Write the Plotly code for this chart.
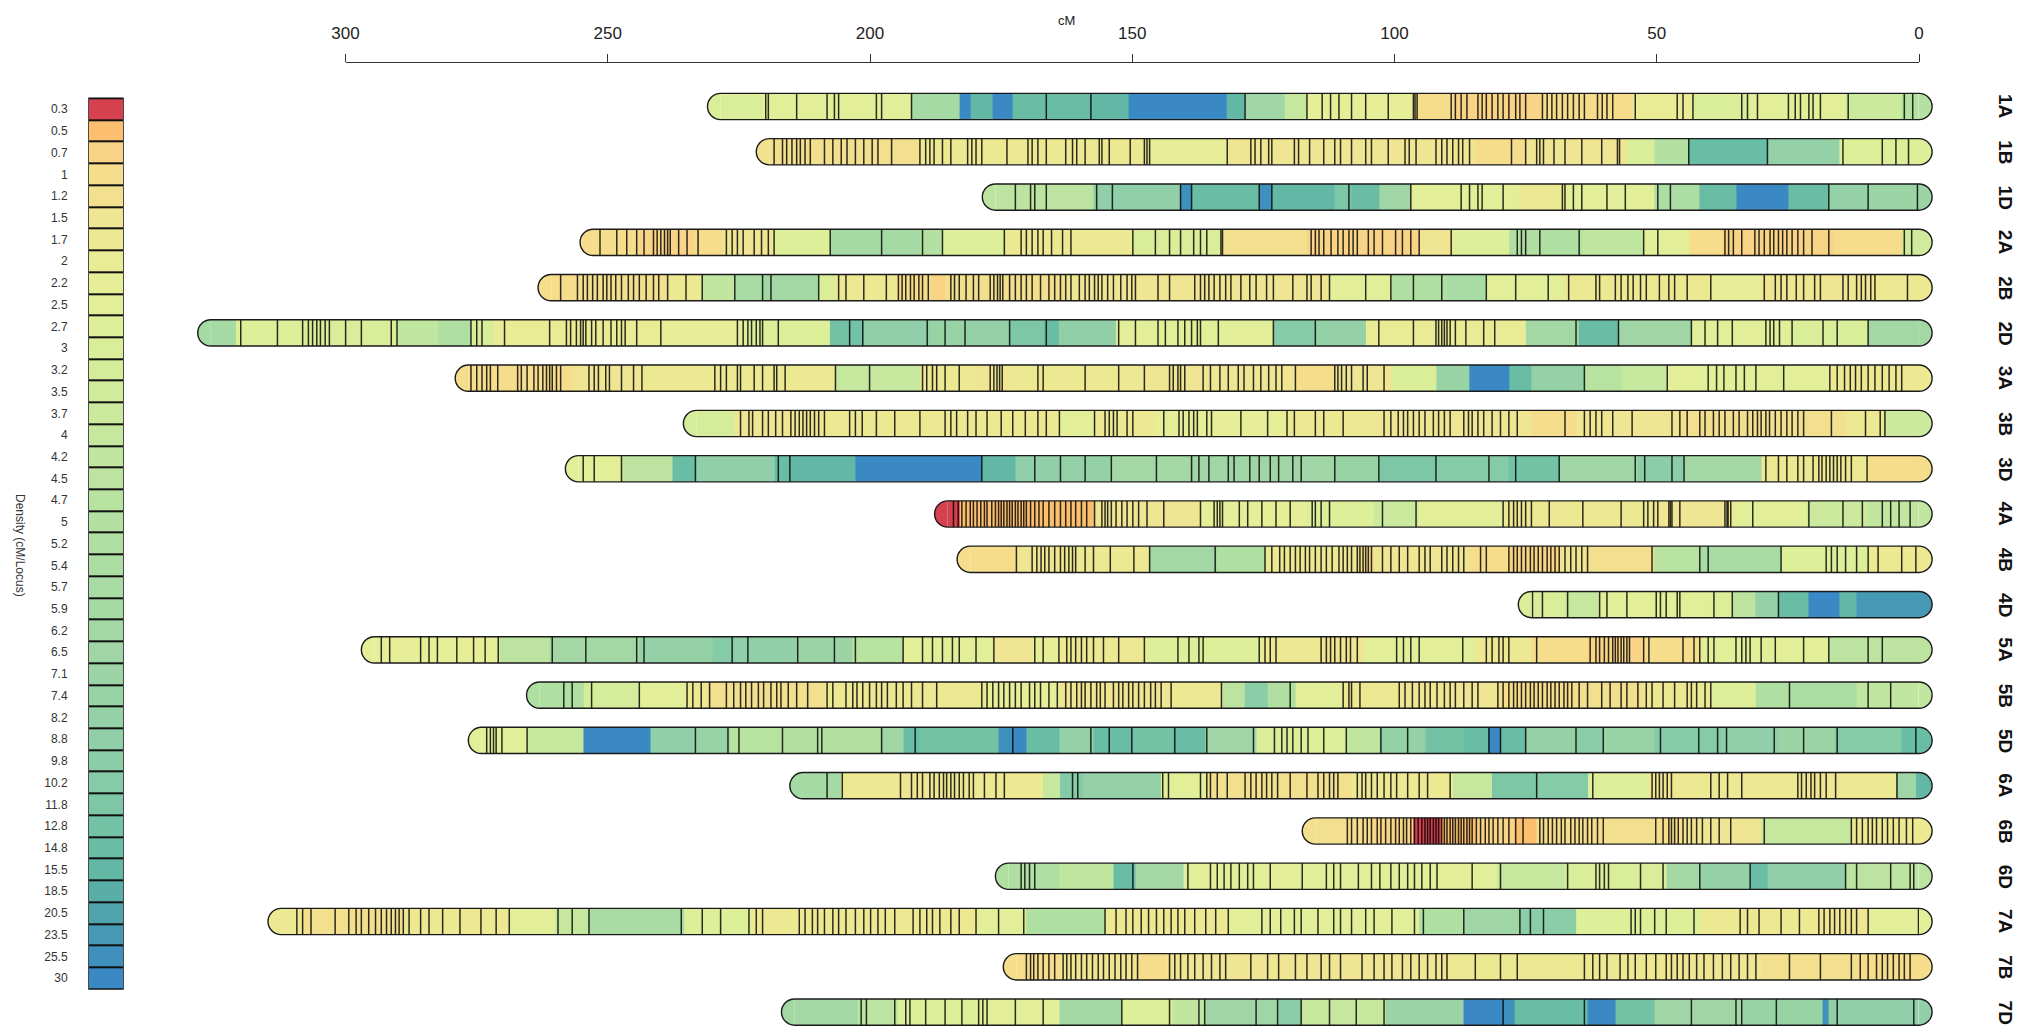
import plotly.graph_objects as go

# legend classes (cM/Locus), top to bottom
LEGEND_VALUES = [0.3, 0.5, 0.7, 1, 1.2, 1.5, 1.7, 2, 2.2, 2.5, 2.7, 3, 3.2, 3.5, 3.7,
                 4, 4.2, 4.5, 4.7, 5, 5.2, 5.4, 5.7, 5.9, 6.2, 6.5, 7.1, 7.4, 8.2,
                 8.8, 9.8, 10.2, 11.8, 12.8, 14.8, 15.5, 18.5, 20.5, 23.5, 25.5, 30]
LEGEND_COLORS = ['#D6414F', '#FBBF6F', '#F9D486', '#F6DD8C', '#F2E08F', '#F0E592', '#EDE993',
                 '#EAEC95', '#E6EE97', '#E2EF98', '#DEEF99', '#DAEE9A', '#D5ED9B', '#D0EB9C',
                 '#CBEA9D', '#C6E89E', '#C1E69F', '#BCE4A0', '#B8E2A0', '#B4E0A1', '#B0DFA2',
                 '#ACDDA3', '#A9DBA4', '#A6DAA4', '#A3D8A5', '#A0D6A5', '#9CD4A6', '#98D3A6',
                 '#94D1A6', '#90CFA7', '#8BCDA7', '#86CBA7', '#7DC6A6', '#74C2A6', '#6ABDA5',
                 '#62B7A5', '#59AEA8', '#4FA4AE', '#4699B5', '#3F90BC', '#3A88C4']

CHROMS = ['1A', '1B', '1D', '2A', '2B', '2D', '3A', '3B', '3D', '4A', '4B', '4D',
          '5A', '5B', '5D', '6A', '6B', '6D', '7A', '7B', '7D']
LENGTHS = [228.5, 219.2, 176.1, 252.8, 260.8, 325.7, 276.6, 233.1, 255.6, 185.2, 180.9,
           73.9, 294.5, 263.0, 274.1, 212.8, 115.1, 173.6, 312.3, 172.1, 214.4]
AXIS_TICKS = [0, 50, 100, 150, 200, 250, 300]

# density segments: (start cM, density)
SEG_1A = [(0, 5), (3.3, 3.7), (14, 2.5), (32.2, 3), (42.9, 2), (54.7, 1), (71.8, 0.7), (88.9, 1),
          (96.4, 2.2), (116.7, 4), (121, 6.5), (128.5, 15.5), (132, 30), (150.7, 15.5),
          (157.9, 14.8), (172.8, 30), (176.6, 15.5), (180.9, 30), (183, 5.9), (192.1, 2.5),
          (220.5, 3)]
SEG_1B = [(0, 2.7), (15.1, 8.2), (28.9, 14.8), (43.9, 5), (50.4, 3), (55.7, 1.5), (75, 1),
          (84.6, 1.5), (131.7, 2.2), (146.7, 1.7), (190.5, 1.2)]
SEG_1D = [(0, 7.1), (9.7, 8.2), (17.2, 14.8), (24.9, 30), (34.9, 14.8), (41.8, 5.4), (50.4, 2.5),
          (67.5, 1.7), (76.1, 2.5), (96.9, 6.5), (102.8, 14.8), (108.2, 11.8), (111.4, 15.5),
          (123.4, 25.5), (125.8, 14.8), (138.7, 25.5), (140.8, 8.8), (157.4, 4.5)]
SEG_2A = [(0, 3.5), (3.3, 1), (16.2, 0.7), (37.5, 1), (43.9, 2.5), (52.5, 4.2), (64.3, 5.2),
          (78.2, 2.7), (88.9, 1.5), (95.3, 0.7), (116.7, 1.2), (132.8, 3), (149.9, 1.7),
          (174.4, 2.7), (186.2, 5), (190.5, 5.9), (207.6, 2.7), (218.3, 1.5), (228, 1),
          (233.3, 0.7), (244, 1)]
SEG_2B = [(0, 1.7), (8.7, 1.5), (30.1, 2.2), (39.7, 1.7), (67.5, 2.5), (82.5, 5.7), (90, 5.2),
          (100.7, 2.5), (112.4, 1.5), (163, 1.2), (185.7, 0.7), (188.4, 1), (194.8, 1.7),
          (206.6, 3), (209.8, 6.2), (220.5, 5.7), (225.8, 4.2), (232.2, 1.7), (238.6, 1.2),
          (254.7, 1)]
SEG_2D = [(0, 6.2), (9.7, 3), (24.7, 2.5), (43.4, 6.5), (57.3, 14.8), (64.8, 6.2), (75, 2),
          (105.5, 8.2), (115.1, 10.2), (123.1, 2.5), (153.1, 8.8), (164, 14.8), (166.9, 11.8),
          (173.4, 8.2), (181.9, 7.4), (188.4, 8.8), (201.2, 12.8), (207.6, 2.7), (224.7, 2.2),
          (239.7, 2), (271.8, 3), (276.1, 5.2), (282.5, 4.2), (290, 3), (308.2, 2.7), (321, 5.9)]
SEG_3A = [(0, 1.7), (17.2, 2.5), (48.2, 4), (56.8, 4.7), (63.8, 8.2), (73.9, 14.8), (78.2, 30),
          (85.7, 7.4), (92.1, 3), (100.7, 1.5), (111.4, 1), (118.9, 1.5), (147.7, 1.7),
          (173.4, 1.5), (179.8, 1.7), (190.5, 4), (206.6, 1.7), (244, 1.5), (256.8, 1)]
SEG_3B = [(0, 3.7), (6.5, 1.7), (14, 1.2), (46.1, 1.5), (65.4, 1), (73.9, 1.5), (103.9, 1.7),
          (121, 2.2), (145.6, 1.7), (157.4, 2.5), (163.8, 1.7), (208.7, 1.5), (225.8, 3.2)]
SEG_3D = [(0, 1), (9.7, 1.7), (30.1, 6.2), (45, 9.8), (53.6, 6.5), (68.6, 12.8), (78.2, 10.2),
          (92.1, 11.8), (102.8, 7.4), (111.4, 6.5), (139.2, 6.2), (154.2, 8.2), (163.8, 8.8),
          (172.3, 15.5), (178.7, 30), (202.8, 15.5), (215.1, 14.8), (218.3, 8.8), (233.3, 14.8),
          (237.6, 4.5), (247.2, 2.5)]
SEG_4A = [(0, 4.2), (9.7, 3.7), (21.5, 2.5), (35.4, 1.5), (50.4, 1.7), (79.3, 2.5), (95.3, 3.7),
          (103.9, 2.7), (116.7, 2.2), (137, 1.5), (157.4, 0.5), (183, 0.3)]
SEG_4B = [(0, 1.7), (9.7, 2.7), (26.3, 5.7), (41.8, 4.7), (50.4, 1.2), (63.2, 1.5), (68.6, 0.7),
          (78.2, 1), (85.7, 1.5), (103.9, 1), (107.1, 1.7), (124.7, 5.2), (133.8, 6.2),
          (146.7, 1.7), (163.8, 1.5), (172.3, 1)]
SEG_4D = [(0, 23.5), (11.9, 15.5), (15.1, 30), (21, 14.8), (26.8, 8.2), (31.1, 4.5), (35.4, 2.7),
          (39.7, 2.5), (61.1, 4), (67.5, 3)]
SEG_5A = [(0, 4.5), (17.2, 2.5), (41.8, 1), (52.5, 0.7), (63.2, 1), (73.9, 1.7), (84.6, 2.5),
          (106, 1.5), (114.6, 1.7), (125.3, 2.7), (147.7, 1.7), (163.8, 2.2), (169.1, 1.5),
          (176.6, 2.5), (193.7, 4.7), (203.3, 7.1), (214, 8.8), (225.8, 10.2), (230.1, 8.2),
          (244, 6.2), (261.1, 4.5), (270.7, 2.2)]
SEG_5B = [(0, 4.2), (11.9, 5.4), (24.7, 5.2), (31.1, 2.7), (39.7, 1.7), (52.5, 1.2), (65.4, 1),
          (80.3, 1.5), (99.6, 1.7), (110.3, 2.5), (118.9, 5.2), (124.2, 9.8), (128.5, 4.5),
          (132.8, 1.7), (142.4, 1.5), (163.8, 2.2), (177.7, 1.7), (208.7, 1.2), (231.2, 1.7),
          (235.4, 2.5), (244, 3.2), (254.7, 5.2)]
SEG_5D = [(0, 14.8), (3.3, 10.2), (16.1, 7.1), (26.8, 8.8), (37.6, 10.2), (50.4, 7.4), (60, 9.8),
          (65.4, 8.2), (75, 14.8), (79.8, 30), (82, 14.8), (86.8, 12.8), (94.2, 8.2), (102.8, 4.2),
          (109.2, 2.7), (118.9, 3), (126.3, 6.5), (136, 14.8), (142.4, 12.8), (149.9, 14.8),
          (157.4, 8.2), (163.8, 14.8), (170.2, 30), (172.8, 25.5), (175.5, 12.8), (190.5, 14.8),
          (193.7, 6.5), (198, 5), (217.3, 4.7), (226.9, 7.4), (233.3, 8.8), (241.9, 30),
          (254.7, 4), (265.4, 2.5)]
SEG_6A = [(0, 15.5), (0.6, 6.5), (4.4, 1.7), (15.1, 1.5), (21.5, 1.7), (46.1, 1.5), (51.5, 2.7),
          (63.2, 10.2), (72.9, 11.8), (81.4, 4), (88.9, 1.7), (108.2, 1.2), (136, 2.5),
          (144.5, 8.2), (159.5, 10.2), (163.8, 4), (167, 1.7), (187.3, 1.5), (194.8, 1.7),
          (205.5, 5.9)]
SEG_6B = [(0, 1.7), (12.9, 4), (30.1, 1.5), (45, 1), (50.4, 1.2), (60, 1), (72.9, 0.5),
          (77.1, 0.7), (84.6, 0.5), (91, 0.3), (96.4, 0.7), (103.9, 1), (109.2, 1.2)]
SEG_6D = [(0, 4.5), (14, 8.8), (28.9, 14.8), (32.2, 8.2), (41.8, 6.2), (48.2, 3), (67.5, 4),
          (80.3, 2.5), (140.3, 6.2), (149.4, 14.8), (153.6, 4.2), (163.8, 5.2)]
SEG_7A = [(0, 2.5), (9.7, 1.5), (19.4, 1.7), (41.8, 2.7), (65.4, 9.8), (76.1, 6.5), (86.8, 5.2),
          (95.3, 2.5), (131.7, 1.7), (155.2, 5.2), (170.2, 2.5), (179.8, 1.7), (222.6, 2.7),
          (235.4, 5.7), (253.6, 4), (260, 2.5), (268.6, 1.7), (289, 1.2), (308.2, 1.7)]
SEG_7B = [(0, 1), (11.9, 1.2), (30.1, 1.5), (49.3, 1.7), (88.9, 1.5), (143.5, 1), (148.8, 1.5),
          (163.8, 1)]
SEG_7D = [(0, 8.8), (17.2, 25.5), (18.3, 7.4), (33.3, 6.5), (50.4, 12.8), (57.9, 30),
          (63.2, 14.8), (77.1, 25.5), (79.3, 30), (86.8, 7.1), (101.7, 4), (117.8, 9.8),
          (122.1, 6.5), (136, 4.2), (142.4, 2.7), (152, 6.2), (163.8, 2.5), (179.8, 2.7),
          (194.8, 4.5), (202.3, 6.2)]

# marker positions (cM)
MK_1A = [157.9, 128.5, 116.7, 113.8, 112.2, 110.6, 108.2, 105.5, 101.2, 96.4, 96.1, 95.7, 89.2,
         88.4, 87.3, 86.2, 84.1, 83.3, 82.5, 81.4, 80.3, 79.3, 78.2, 76.9, 76.1, 75.0, 71.8, 70.9,
         70.0, 69.1, 68.0, 67.0, 65.9, 64.8, 63.8, 61.3, 60.4, 59.5, 58.4, 54.1, 46.1, 45.0, 43.1,
         33.8, 32.7, 30.8, 24.9, 23.6, 22.6, 21.0, 20.2, 18.8, 13.5, 2.8, 1.2, 219.9, 219.4,
         214.0, 208.2, 206.8, 206.0, 198.8, 197.8, 192.1, 166.4]
MK_1B = [218.3, 216.7, 215.9, 214.9, 214.0, 213.3, 212.4, 211.4, 208.7, 207.1, 205.5, 204.4,
         202.8, 201.2, 199.6, 198.5, 195.9, 190.5, 189.4, 188.6, 187.8, 186.2, 184.6, 181.4,
         180.6, 179.8, 178.7, 173.9, 169.9, 169.1, 168.0, 166.4, 162.7, 161.4, 160.6, 159.0,
         156.3, 155.8, 154.4, 150.4, 147.7, 147.2, 146.7, 131.9, 127.4, 126.6, 125.5, 124.0,
         123.4, 119.1, 118.3, 116.2, 113.5, 111.4, 110.3, 108.2, 105.5, 104.4, 101.2, 98.0,
         97.2, 95.9, 92.1, 91.0, 90.0, 88.9, 87.8, 87.0, 85.7, 77.7, 75.0, 72.9, 72.3, 71.6,
         69.6, 67.5, 64.3, 60.5, 57.5, 57.1, 43.9, 28.9, 14.5, 7.0, 4.4, 2.0]
MK_1D = [172.3, 169.4, 168.6, 166.4, 156.8, 153.8, 140.8, 138.7, 125.8, 123.4, 108.7, 96.9, 87.3,
         85.7, 84.1, 83.3, 79.3, 68.0, 67.5, 65.9, 64.3, 59.5, 56.0, 49.8, 47.4, 17.2, 9.7, 0.3]
MK_2A = [251.5, 248.3, 246.4, 244.5, 243.1, 241.3, 240.6, 239.9, 239.2, 238.6, 238.1, 236.5,
         234.9, 232.8, 227.4, 226.3, 225.3, 224.2, 222.1, 220.7, 219.4, 218.3, 207.6, 197.8,
         190.0, 186.2, 174.4, 171.2, 170.2, 169.1, 168.0, 167.0, 165.4, 163.3, 161.7, 149.9,
         145.6, 142.9, 140.8, 138.3, 137.0, 135.8, 133.1, 132.8, 115.9, 115.1, 114.4, 113.5,
         112.1, 110.8, 109.8, 108.7, 107.9, 107.1, 105.0, 103.9, 102.3, 99.8, 98.5, 96.9, 95.3,
         89.2, 76.6, 75.8, 75.0, 72.3, 64.8, 52.5, 49.8, 37.0, 36.3, 35.4, 33.8, 31.3, 30.5,
         29.5, 28.4, 27.7, 26.8, 26.0, 25.2, 24.2, 23.1, 22.0, 20.4, 17.2, 2.8, 1.4]
MK_2B = [259.0, 255.8, 254.7, 253.9, 252.9, 252.0, 250.9, 250.2, 249.4, 248.5, 247.4, 246.1,
         245.1, 244.0, 242.7, 241.3, 240.3, 238.6, 235.1, 232.0, 225.8, 220.5, 218.9, 209.8,
         206.0, 204.6, 201.2, 196.9, 194.6, 193.9, 193.2, 192.3, 191.6, 190.7, 190.0, 188.9,
         184.6, 183.9, 183.0, 181.7, 180.3, 179.3, 177.1, 176.4, 175.7, 175.2, 174.7, 173.4,
         172.3, 171.2, 170.2, 169.1, 167.5, 165.9, 164.8, 163.7, 162.7, 161.7, 160.1, 159.0,
         158.2, 157.2, 156.5, 155.8, 154.7, 153.6, 152.2, 151.0, 150.1, 149.4, 145.1, 142.9,
         138.1, 137.0, 136.2, 135.4, 134.4, 133.3, 132.2, 131.2, 129.3, 127.6, 126.4, 124.4,
         123.1, 119.4, 116.7, 115.9, 114.0, 112.4, 105.5, 100.7, 96.4, 91.0, 82.5, 76.9, 70.7,
         66.8, 61.6, 60.9, 57.9, 56.8, 55.5, 54.5, 53.1, 52.0, 49.5, 47.7, 46.6, 44.2, 39.7,
         29.5, 27.4, 26.3, 25.2, 23.4, 22.0, 19.9, 18.8, 14.5, 13.5, 11.9, 11.0, 10.2, 9.2, 8.4,
         2.2]
MK_2D = [320.0, 313.0, 308.2, 307.1, 306.3, 305.5, 304.8, 303.9, 303.1, 300.0, 297.0, 291.3,
         290.2, 276.1, 275.0, 274.0, 269.7, 261.1, 257.9, 257.1, 256.0, 255.2, 254.7, 254.2,
         253.1, 252.3, 250.9, 249.4, 248.3, 247.4, 246.7, 244.5, 239.9, 225.3, 224.2, 223.3,
         222.6, 221.7, 221.0, 220.5, 217.5, 203.9, 201.4, 189.1, 185.7, 181.9, 173.4, 166.4,
         152.6, 149.4, 145.1, 143.7, 141.3, 140.0, 138.7, 137.6, 137.0, 133.6, 123.1, 115.1,
         103.0, 96.4, 92.1, 91.6, 91.0, 90.5, 90.0, 89.4, 88.4, 86.4, 83.0, 80.9, 65.4, 57.3,
         43.4, 40.8, 38.4, 35.6, 29.2, 28.4, 27.7, 26.6, 24.2, 18.3, 15.6, 9.7]
MK_3A = [276.1, 275.0, 274.0, 273.1, 272.4, 271.0, 267.2, 266.5, 265.4, 264.1, 263.3, 262.4,
         261.7, 261.1, 260.6, 259.8, 259.0, 253.6, 252.6, 251.8, 250.4, 249.7, 247.4, 245.1,
         243.5, 229.6, 228.5, 227.4, 225.3, 224.7, 222.1, 220.5, 218.3, 217.8, 216.2, 206.6,
         200.1, 190.0, 189.2, 188.1, 187.3, 185.7, 183.0, 177.1, 176.4, 175.8, 175.3, 174.8,
         168.0, 167.0, 159.0, 152.6, 147.7, 142.9, 142.2, 141.3, 140.8, 140.0, 136.5, 135.1,
         133.3, 131.7, 129.8, 128.7, 126.9, 125.5, 124.0, 122.6, 121.5, 118.9, 111.4, 110.8,
         110.1, 109.2, 108.2, 106.0, 105.2, 102.0, 63.8, 48.0, 40.2, 38.6, 37.2, 34.9, 33.3,
         31.1, 25.8, 17.0, 15.6, 14.2, 13.1, 12.1, 11.0, 9.7, 8.4, 7.0, 5.7, 4.4, 3.3]
MK_3B = [224.7, 223.1, 222.4, 220.5, 219.4, 218.0, 216.7, 215.1, 214.3, 213.5, 212.8, 212.1,
         211.4, 210.6, 209.8, 208.7, 203.9, 202.8, 201.5, 198.8, 195.3, 190.5, 185.7, 184.6,
         183.5, 181.4, 179.8, 177.7, 175.0, 172.8, 170.4, 168.0, 166.4, 163.9, 157.2, 155.2,
         154.4, 153.6, 152.9, 151.0, 149.9, 144.0, 141.1, 140.3, 139.2, 138.3, 137.6, 135.8,
         134.9, 129.3, 124.2, 120.5, 119.1, 115.1, 113.5, 109.8, 102.0, 100.7, 99.3, 98.3, 97.5,
         96.4, 95.3, 94.2, 92.6, 91.6, 90.5, 89.4, 86.8, 85.9, 85.2, 84.1, 83.0, 81.4, 79.8,
         78.2, 76.6, 67.5, 63.8, 62.7, 61.6, 60.5, 58.4, 54.7, 47.1, 45.6, 44.2, 41.8, 40.8,
         39.2, 38.1, 37.0, 35.4, 34.3, 32.7, 31.7, 30.8, 30.1, 29.2, 28.5, 27.4, 26.3, 25.2,
         24.2, 23.1, 22.0, 16.7, 10.2, 7.4, 6.5]
MK_3D = [254.7, 252.6, 247.4, 233.3, 217.5, 215.3, 178.7, 168.6, 163.7, 159.0, 154.0, 145.4,
         138.7, 137.3, 135.4, 131.7, 130.6, 127.6, 125.8, 123.7, 122.1, 119.4, 117.8, 111.4,
         103.0, 92.1, 82.0, 76.9, 68.6, 54.1, 52.3, 47.1, 44.8, 29.2, 26.8, 25.2, 23.1, 22.0,
         20.2, 19.1, 18.5, 17.7, 17.0, 16.3, 15.6, 14.9, 14.0, 12.9, 9.9]
MK_4A = [184.1, 183.2, 182.5, 181.7, 180.9, 180.3, 179.6, 178.9, 178.2, 177.7, 176.8, 176.1,
         175.5, 175.0, 174.5, 173.9, 173.4, 172.9, 172.3, 171.8, 171.2, 170.7, 170.2, 169.4,
         168.6, 167.8, 167.0, 165.9, 164.8, 163.7, 162.7, 161.7, 160.8, 159.7, 158.7, 157.2,
         155.8, 155.2, 154.7, 154.0, 153.1, 152.0, 151.0, 149.9, 148.8, 147.2, 144.0, 137.0,
         134.4, 133.8, 133.3, 132.8, 129.6, 128.0, 125.3, 122.6, 119.9, 115.7, 115.1, 114.0,
         112.4, 102.3, 95.9, 79.3, 78.2, 77.3, 76.6, 75.8, 75.0, 73.9, 70.5, 64.1, 56.8, 52.5,
         51.7, 50.6, 49.8, 47.7, 47.4, 47.1, 45.6, 37.0, 36.6, 36.4, 35.9, 31.7, 21.0, 14.5,
         10.8, 7.0, 5.4, 3.8, 1.7]
MK_4B = [172.1, 169.1, 168.2, 167.4, 166.7, 165.9, 164.8, 163.7, 162.9, 162.1, 161.4, 160.8,
         159.0, 157.4, 154.2, 149.7, 146.7, 134.2, 124.7, 123.4, 121.9, 121.0, 119.9, 118.9,
         118.0, 117.0, 116.2, 115.1, 114.0, 113.0, 111.9, 110.6, 109.8, 109.0, 108.2, 107.1,
         106.6, 106.0, 105.5, 105.0, 104.4, 102.3, 100.7, 99.1, 97.5, 95.3, 94.2, 93.2, 91.0,
         90.0, 88.9, 87.8, 86.8, 83.6, 82.5, 78.2, 77.3, 76.6, 75.8, 75.0, 74.1, 73.4, 72.6,
         71.8, 70.9, 70.2, 69.4, 68.6, 67.5, 66.4, 65.4, 64.3, 63.2, 50.9, 41.8, 40.2, 26.3,
         17.7, 16.7, 15.6, 14.0, 11.9, 9.7, 7.8, 3.3, 0.6]
MK_4D = [73.7, 71.8, 67.0, 60.9, 59.5, 55.7, 50.1, 49.3, 48.2, 46.1, 45.6, 39.1, 35.6, 26.8]
MK_5A = [293.2, 291.6, 285.7, 284.1, 282.5, 278.8, 275.6, 273.4, 270.9, 260.6, 254.2, 244.5,
         243.1, 226.3, 223.3, 213.8, 206.8, 202.8, 193.7, 190.0, 188.1, 186.2, 184.3, 183.0,
         179.8, 176.4, 168.6, 167.0, 164.0, 162.5, 161.7, 160.8, 159.7, 158.7, 157.4, 155.5,
         152.6, 147.7, 141.3, 139.2, 137.3, 136.5, 125.8, 124.7, 123.7, 122.6, 114.0, 113.0,
         112.2, 111.4, 110.3, 109.2, 108.4, 107.1, 99.6, 98.3, 96.9, 95.3, 87.0, 82.5, 81.4,
         80.1, 79.3, 78.2, 72.9, 62.7, 61.6, 60.9, 60.0, 59.2, 58.4, 57.9, 57.4, 56.8, 56.3,
         55.7, 55.2, 52.5, 51.5, 45.0, 42.9, 41.8, 40.2, 39.1, 34.9, 33.8, 33.0, 32.2, 30.1,
         27.4, 22.0, 17.2, 9.7, 7.0]
MK_5B = [258.4, 256.8, 253.1, 244.0, 234.9, 233.8, 232.2, 230.6, 227.4, 226.0, 224.7, 223.7,
         222.6, 221.3, 220.3, 218.9, 217.8, 217.0, 215.6, 214.0, 211.9, 208.2, 207.1, 204.6,
         203.3, 202.5, 201.4, 200.1, 198.8, 197.8, 196.7, 195.0, 193.7, 192.1, 190.0, 187.3,
         178.7, 177.7, 176.6, 175.5, 174.5, 173.4, 172.3, 171.2, 169.6, 168.6, 167.5, 165.9,
         164.3, 162.7, 161.7, 160.6, 159.7, 159.0, 157.9, 156.8, 156.1, 155.2, 153.6, 152.6,
         151.8, 150.7, 149.9, 148.8, 147.7, 146.5, 145.6, 144.5, 142.6, 133.0, 119.9, 109.8,
         108.7, 108.2, 106.6, 99.1, 98.0, 96.6, 95.3, 94.2, 93.2, 91.9, 90.5, 89.4, 88.4, 86.8,
         85.2, 84.1, 80.3, 79.3, 78.2, 77.3, 76.6, 75.8, 75.0, 74.1, 73.4, 72.6, 71.8, 70.9,
         70.2, 69.4, 68.6, 67.7, 67.0, 66.2, 64.8, 63.2, 60.5, 58.9, 56.8, 55.7, 53.6, 52.0,
         50.9, 48.8, 46.6, 44.2, 43.4, 42.4, 40.8, 39.7, 24.7, 9.7, 5.4]
MK_5D = [273.1, 272.4, 271.8, 271.3, 270.2, 265.4, 233.3, 227.1, 225.0, 216.7, 210.0, 209.2,
         197.8, 191.4, 172.8, 157.9, 154.4, 150.1, 141.9, 135.8, 126.9, 122.9, 121.5, 120.5,
         119.4, 117.8, 116.5, 113.5, 109.2, 102.6, 97.5, 82.0, 79.8, 75.0, 65.4, 60.2, 49.3,
         42.0, 38.4, 36.7, 27.6, 22.0, 15.6, 0.6]
MK_6A = [208.2, 205.3, 194.2, 192.1, 191.0, 190.0, 188.6, 187.8, 186.8, 186.0, 185.4, 184.6,
         183.9, 183.0, 182.2, 181.1, 180.3, 178.2, 176.0, 174.4, 161.4, 160.4, 144.2, 143.1,
         137.0, 135.8, 135.1, 133.8, 131.9, 128.5, 127.4, 126.4, 125.3, 124.4, 123.4, 122.3,
         119.9, 116.7, 114.6, 113.5, 112.4, 111.6, 110.8, 107.1, 106.2, 105.5, 104.4, 103.3,
         102.0, 100.7, 99.6, 97.5, 95.3, 93.7, 89.4, 72.9, 62.2, 50.9, 50.2, 49.5, 48.8, 48.0,
         47.2, 39.7, 38.1, 36.5, 33.8, 23.1, 22.4, 21.5, 20.6, 19.9, 18.8, 17.7, 15.9, 4.2]
MK_6B = [109.0, 108.2, 107.1, 106.0, 105.2, 104.4, 103.3, 102.6, 101.7, 100.7, 99.8, 99.1, 98.3,
         97.7, 96.9, 96.2, 95.5, 94.8, 94.2, 93.7, 93.2, 92.6, 92.1, 91.6, 91.0, 90.5, 90.0,
         89.4, 88.9, 88.4, 87.8, 87.3, 86.8, 86.2, 85.7, 85.2, 84.4, 83.6, 82.7, 82.0, 81.2,
         80.3, 79.3, 78.2, 76.9, 75.5, 72.3, 71.6, 70.7, 69.9, 69.1, 68.2, 67.5, 66.4, 65.6,
         64.8, 64.1, 63.2, 62.4, 61.3, 60.2, 50.2, 48.8, 47.7, 47.2, 46.6, 45.9, 45.0, 44.2,
         43.4, 42.4, 41.3, 39.7, 38.1, 35.9, 29.5, 12.9, 11.9, 10.8, 9.7, 8.9, 8.1, 7.0, 6.0,
         4.9, 3.8, 2.4, 1.2]
MK_6D = [171.2, 170.5, 169.6, 168.6, 149.9, 139.4, 135.1, 133.8, 132.5, 131.2, 129.6, 128.0,
         126.9, 123.7, 117.6, 113.0, 111.6, 110.3, 106.9, 104.4, 102.8, 100.7, 99.1, 97.5,
         96.2, 94.8, 93.2, 91.9, 85.2, 79.8, 67.0, 61.6, 60.9, 60.0, 59.2, 53.1, 48.8, 41.8,
         32.2, 14.0, 11.9, 5.4, 1.7, 1.0]
MK_7A = [309.3, 308.2, 306.6, 302.0, 299.4, 298.0, 297.0, 295.6, 294.3, 293.2, 292.2, 291.3,
         290.5, 289.8, 289.0, 287.9, 285.7, 284.1, 281.5, 278.2, 274.2, 271.3, 268.8, 259.5,
         256.8, 253.6, 236.0, 232.0, 228.5, 223.1, 221.7, 220.5, 213.5, 212.4, 211.0, 210.0,
         208.7, 207.1, 206.0, 204.6, 202.8, 201.2, 199.9, 198.5, 197.1, 195.3, 191.8, 190.5,
         189.2, 188.1, 186.7, 184.6, 183.0, 179.8, 175.5, 170.7, 155.2, 153.1, 151.2, 149.9,
         148.3, 146.9, 145.4, 144.0, 142.6, 141.3, 140.0, 138.1, 136.0, 134.1, 131.7, 125.3,
         123.7, 121.7, 119.1, 117.8, 114.6, 111.6, 110.3, 108.2, 105.5, 103.9, 100.5, 96.2,
         94.5, 86.8, 76.1, 74.1, 71.6, 54.9, 54.1, 53.1, 50.4, 48.2, 42.9, 34.1, 32.7, 30.5,
         26.3, 22.8, 19.1, 18.1, 17.0, 16.1, 15.1, 14.0, 12.9, 11.9, 9.7, 0.1]
MK_7B = [170.2, 169.4, 168.8, 168.0, 167.0, 165.9, 164.8, 163.2, 162.5, 161.7, 160.8, 159.7,
         158.7, 157.6, 156.5, 155.5, 154.4, 153.3, 152.2, 151.2, 150.1, 149.0, 142.9, 141.9,
         140.8, 139.4, 138.1, 136.5, 134.9, 133.3, 132.2, 127.4, 124.2, 122.1, 118.9, 116.7,
         114.0, 112.4, 110.3, 106.2, 103.9, 102.0, 100.5, 98.5, 96.9, 95.3, 93.7, 92.1, 91.0,
         90.0, 84.6, 79.8, 76.6, 63.8, 62.2, 60.9, 59.5, 57.0, 55.5, 54.1, 52.0, 50.2, 48.2,
         47.2, 46.1, 45.0, 43.8, 42.4, 41.0, 39.2, 37.5, 35.9, 34.3, 32.7, 31.1, 24.7, 18.8,
         12.9, 11.2, 9.7, 8.1, 7.0, 6.0, 4.9, 3.8, 2.8, 1.7]
MK_7D = [201.7, 200.7, 195.3, 193.2, 192.4, 189.4, 185.7, 182.5, 179.3, 178.5, 177.7, 172.3,
         167.0, 152.0, 142.9, 137.3, 136.2, 126.4, 122.3, 117.8, 112.4, 107.3, 102.0, 79.3,
         63.8, 43.4, 34.9, 33.8, 27.2, 15.6, 1.0]

SEGMENTS = [SEG_1A, SEG_1B, SEG_1D, SEG_2A, SEG_2B, SEG_2D, SEG_3A, SEG_3B, SEG_3D, SEG_4A,
            SEG_4B, SEG_4D, SEG_5A, SEG_5B, SEG_5D, SEG_6A, SEG_6B, SEG_6D, SEG_7A, SEG_7B,
            SEG_7D]
MARKERS = [MK_1A, MK_1B, MK_1D, MK_2A, MK_2B, MK_2D, MK_3A, MK_3B, MK_3D, MK_4A, MK_4B, MK_4D,
           MK_5A, MK_5B, MK_5D, MK_6A, MK_6B, MK_6D, MK_7A, MK_7B, MK_7D]

# the page body adds an 8px margin; lay the figure out in page pixels
OFF = 8
W, H = 2032 - OFF, 1032 - OFF
HALF = 0.29      # half bar height, in row units
CAP = 2.5        # end cap radius, in cM
K = 0.5523
FONT = 'Liberation Sans, Arial, sans-serif'


def px(x):
    return (x - OFF) / W


def py(y):
    return 1 - (y - OFF) / H


n = len(LEGEND_VALUES)
scale = []
for i, c in enumerate(LEGEND_COLORS):
    scale += [[i / n, c], [(i + 1) / n, c]]


def idx(d):
    # legend class whose label is closest to d
    return min(range(n), key=lambda i: abs(LEGEND_VALUES[i] - d))


fig = go.Figure()
shapes = []

# chromosome bodies
for r, (segs, L) in enumerate(zip(SEGMENTS, LENGTHS)):
    edges = [s for s, _ in segs] + [L]
    z = [[idx(d) for _, d in segs]]
    fig.add_trace(go.Heatmap(x=edges, y=[r - HALF, r + HALF], z=z, coloraxis='coloraxis',
                             hoverinfo='skip'))
    y0, y1 = r - HALF, r + HALF
    c0 = LEGEND_COLORS[idx(segs[0][1])]
    c1 = LEGEND_COLORS[idx(segs[-1][1])]
    right_cap = (f'M 0,{y0} C {-K*CAP},{y0} {-CAP},{r-K*HALF} {-CAP},{r} '
                 f'C {-CAP},{r+K*HALF} {-K*CAP},{y1} 0,{y1} Z')
    left_cap = (f'M {L},{y0} C {L+K*CAP},{y0} {L+CAP},{r-K*HALF} {L+CAP},{r} '
                f'C {L+CAP},{r+K*HALF} {L+K*CAP},{y1} {L},{y1} Z')
    shapes.append(dict(type='path', path=right_cap, xref='x', yref='y', fillcolor=c0,
                       line=dict(width=0)))
    shapes.append(dict(type='path', path=left_cap, xref='x', yref='y', fillcolor=c1,
                       line=dict(width=0)))
    outline = (f'M 0,{y0} L {L},{y0} C {L+K*CAP},{y0} {L+CAP},{r-K*HALF} {L+CAP},{r} '
               f'C {L+CAP},{r+K*HALF} {L+K*CAP},{y1} {L},{y1} L 0,{y1} '
               f'C {-K*CAP},{y1} {-CAP},{r+K*HALF} {-CAP},{r} '
               f'C {-CAP},{r-K*HALF} {-K*CAP},{y0} 0,{y0} Z')
    shapes.append(dict(type='path', path=outline, xref='x', yref='y',
                       line=dict(color='#1a1a1a', width=1.4)))

# loci
mx, my = [], []
for r, mk in enumerate(MARKERS):
    for m in mk:
        mx += [m, m, None]
        my += [r - HALF, r + HALF, None]
fig.add_trace(go.Scatter(x=mx, y=my, mode='lines', hoverinfo='skip', showlegend=False,
                         line=dict(color='rgba(0,0,0,0.82)', width=1.5)))

# dummy trace for the cM ruler
fig.add_trace(go.Scatter(x=[150], y=[0], xaxis='x2', yaxis='y', mode='markers',
                         marker=dict(opacity=0), hoverinfo='skip', showlegend=False))

# density legend
fig.add_trace(go.Heatmap(x=[0], y=list(range(n)), z=[[i] for i in range(n)],
                         coloraxis='coloraxis', xaxis='x3', yaxis='y2', ygap=2,
                         hoverinfo='skip'))
shapes.append(dict(type='rect', xref='x3 domain', yref='y2 domain', x0=0, x1=1, y0=0, y1=1,
                   fillcolor='#111', line=dict(color='#111', width=1.5), layer='below'))

annotations = []
for r, name in enumerate(CHROMS):
    annotations.append(dict(text=f'<b>{name}</b>', x=px(2018), y=r, xref='paper', yref='y',
                            showarrow=False, textangle=90,
                            font=dict(size=19, color='#111', family=FONT)))
annotations.append(dict(text='cM', x=162.5, y=py(11), xref='x', yref='paper',
                        showarrow=False, font=dict(size=13, color='#222', family=FONT)))
annotations.append(dict(text='Density (cM/Locus)', x=px(11), y=py(545), xref='paper',
                        yref='paper', showarrow=False, textangle=90,
                        font=dict(size=12, color='#333', family=FONT)))

fig.update_layout(
    width=W, height=H,
    plot_bgcolor='rgba(0,0,0,0)', paper_bgcolor='white',
    margin=dict(l=0, r=0, t=0, b=0, autoexpand=False),
    showlegend=False,
    coloraxis=dict(colorscale=scale, cmin=-0.5, cmax=n - 0.5, showscale=False),
    xaxis=dict(domain=[px(150), px(1950)], range=[337.3, -5.91], visible=False,
               fixedrange=True, automargin=False),
    yaxis=dict(domain=[0, py(63)], range=[20.44, -0.961], visible=False, fixedrange=True,
               automargin=False),
    xaxis2=dict(domain=[px(345.5), px(1919)], range=[300, 0], anchor='y', side='top',
                tickvals=AXIS_TICKS, ticks='outside', ticklen=8, tickwidth=1.3,
                tickcolor='#333', showline=True, linecolor='#333', linewidth=1.3,
                showgrid=False, zeroline=False, ticklabelstandoff=8, automargin=False,
                tickfont=dict(size=17, color='#222', family=FONT), fixedrange=True),
    xaxis3=dict(domain=[px(89), px(123)], range=[-0.5, 0.5], anchor='y2', visible=False,
                fixedrange=True, automargin=False),
    yaxis2=dict(domain=[py(989), py(98.3)], range=[n - 0.5, -0.5], anchor='x3',
                tickvals=list(range(n)), ticktext=[f'{v:g}' for v in LEGEND_VALUES],
                ticks='outside', ticklen=18, tickcolor='rgba(0,0,0,0)', showline=False,
                showgrid=False, zeroline=False, automargin=False,
                tickfont=dict(size=12, color='#333', family=FONT), fixedrange=True),
    shapes=shapes,
    annotations=annotations,
)

fig.write_html('out.html')
